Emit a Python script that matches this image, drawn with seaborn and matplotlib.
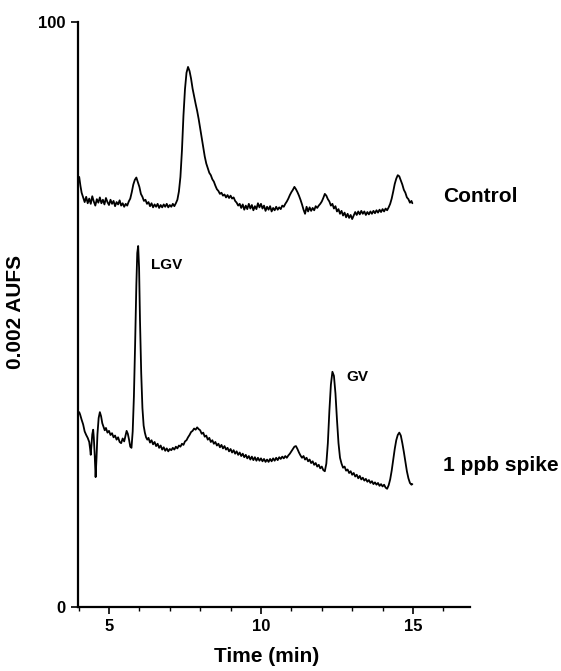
import numpy as np
import pandas as pd
import seaborn as sns
import matplotlib.pyplot as plt
from matplotlib.ticker import MultipleLocator

# ---- data (time in min, detector response in % of full scale) ----
control_time = [4.02, 4.06, 4.10, 4.15, 4.20, 4.25, 4.30, 4.35, 4.40, 4.45, 4.50, 4.55, 4.60, 4.65, 4.70,
                4.75, 4.80, 4.85, 4.90, 4.95, 5.00, 5.05, 5.10, 5.15, 5.20, 5.25, 5.30, 5.35, 5.40, 5.45,
                5.50, 5.55, 5.60, 5.65, 5.70, 5.75, 5.80, 5.85, 5.90, 5.95, 6.00, 6.05, 6.10, 6.15, 6.20,
                6.25, 6.30, 6.35, 6.40, 6.45, 6.50, 6.55, 6.60, 6.65, 6.70, 6.75, 6.80, 6.85, 6.90, 6.95,
                7.00, 7.05, 7.10, 7.15, 7.20, 7.25, 7.30, 7.35, 7.40, 7.45, 7.50, 7.55, 7.60, 7.65, 7.70,
                7.75, 7.80, 7.85, 7.90, 7.95, 8.00, 8.05, 8.10, 8.15, 8.20, 8.25, 8.30, 8.35, 8.40, 8.45,
                8.50, 8.55, 8.60, 8.65, 8.70, 8.75, 8.80, 8.85, 8.90, 8.95, 9.00, 9.05, 9.10, 9.15, 9.20,
                9.25, 9.30, 9.35, 9.40, 9.45, 9.50, 9.55, 9.60, 9.65, 9.70, 9.75, 9.80, 9.85, 9.90, 9.95,
                10.00, 10.05, 10.10, 10.15, 10.20, 10.25, 10.30, 10.35, 10.40, 10.45, 10.50, 10.55, 10.60,
                10.65, 10.70, 10.75, 10.80, 10.85, 10.90, 10.95, 11.00, 11.05, 11.10, 11.15, 11.20, 11.25,
                11.30, 11.35, 11.40, 11.45, 11.50, 11.55, 11.60, 11.65, 11.70, 11.75, 11.80, 11.85, 11.90,
                11.95, 12.00, 12.05, 12.10, 12.15, 12.20, 12.25, 12.30, 12.35, 12.40, 12.45, 12.50, 12.55,
                12.60, 12.65, 12.70, 12.75, 12.80, 12.85, 12.90, 12.95, 13.00, 13.05, 13.10, 13.15, 13.20,
                13.25, 13.30, 13.35, 13.40, 13.45, 13.50, 13.55, 13.60, 13.65, 13.70, 13.75, 13.80, 13.85,
                13.90, 13.95, 14.00, 14.05, 14.10, 14.15, 14.20, 14.25, 14.30, 14.35, 14.40, 14.45, 14.50,
                14.55, 14.60, 14.65, 14.70, 14.75, 14.80, 14.85, 14.90, 14.95, 14.98]
control_signal = [73.5, 72.0, 70.8, 70.0, 69.2, 70.1, 69.0, 69.8, 68.9, 70.2, 69.3, 68.6, 69.7, 69.1, 70.0,
                  69.0, 69.6, 68.8, 69.9, 69.2, 68.7, 69.6, 68.9, 69.4, 68.5, 69.2, 68.8, 69.5, 68.6, 69.0,
                  68.4, 68.9, 68.6, 69.3, 69.8, 70.9, 72.2, 73.0, 73.4, 72.6, 71.8, 70.6, 70.1, 69.4, 69.6,
                  68.9, 69.2, 68.5, 69.0, 68.3, 68.8, 68.4, 68.9, 68.2, 68.7, 68.3, 68.8, 68.4, 68.9, 68.3,
                  68.7, 68.4, 68.9, 68.5, 69.0, 69.6, 71.0, 73.5, 78.0, 84.0, 88.5, 91.3, 92.3, 91.6, 90.3,
                  88.6, 87.3, 86.0, 84.8, 83.4, 81.8, 80.2, 78.6, 77.0, 75.8, 75.0, 74.2, 73.8, 73.1, 72.7,
                  72.0, 71.4, 71.1, 70.6, 70.8, 70.3, 70.5, 70.0, 70.4, 69.9, 70.3, 69.8, 70.0, 69.4, 69.1,
                  68.6, 68.9, 68.2, 68.8, 67.9, 68.6, 68.0, 68.9, 68.1, 68.7, 67.8, 68.5, 68.0, 69.0, 68.3,
                  68.9, 68.1, 68.6, 67.7, 68.4, 67.9, 68.5, 67.6, 68.2, 67.8, 68.4, 67.9, 68.3,
                  68.0, 68.6, 68.4, 68.9, 69.3, 69.8, 70.4, 70.9, 71.3, 71.8, 71.4, 70.9, 70.3,
                  69.6, 68.8, 67.9, 67.2, 68.4, 67.6, 68.3, 67.7, 68.2, 67.8, 68.5, 68.2, 68.6,
                  68.9, 69.3, 69.9, 70.6, 70.3, 69.7, 69.3, 68.6, 68.9, 68.1, 68.5, 67.6, 68.0,
                  67.2, 67.7, 66.9, 67.4, 66.6, 67.2, 66.5, 67.0, 66.3, 66.9, 67.5, 67.0, 67.6,
                  67.1, 67.7, 67.2, 67.6, 67.0, 67.5, 67.1, 67.6, 67.2, 67.7, 67.3, 67.8, 67.4,
                  67.9, 67.5, 68.0, 67.6, 68.1, 67.8, 68.3, 68.9, 69.8, 71.0, 72.3, 73.2, 73.8,
                  73.6, 72.9, 72.2, 71.3, 70.8, 70.0, 69.7, 69.1, 69.4, 69.0]

spike_time = [4.02, 4.05, 4.10, 4.15, 4.20, 4.25, 4.30, 4.35, 4.38, 4.40, 4.42, 4.45, 4.48, 4.50, 4.53,
              4.56, 4.59, 4.62, 4.66, 4.70, 4.74, 4.78, 4.82, 4.86, 4.90, 4.95, 5.00, 5.05, 5.10, 5.15,
              5.20, 5.25, 5.30, 5.35, 5.40, 5.45, 5.50, 5.55, 5.58, 5.62, 5.66, 5.70, 5.74, 5.78, 5.82,
              5.86, 5.90, 5.93, 5.96, 5.99, 6.02, 6.06, 6.10, 6.14, 6.18, 6.22, 6.26, 6.30, 6.35, 6.40,
              6.45, 6.50, 6.55, 6.60, 6.65, 6.70, 6.75, 6.80, 6.85, 6.90, 6.95, 7.00, 7.05, 7.10, 7.15,
              7.20, 7.25, 7.30, 7.35, 7.40, 7.45, 7.50, 7.55, 7.60, 7.65, 7.70, 7.75, 7.80, 7.85, 7.90,
              7.95, 8.00, 8.05, 8.10, 8.15, 8.20, 8.25, 8.30, 8.35, 8.40, 8.45, 8.50, 8.55, 8.60, 8.65,
              8.70, 8.75, 8.80, 8.85, 8.90, 8.95, 9.00, 9.05, 9.10, 9.15, 9.20, 9.25, 9.30, 9.35, 9.40,
              9.45, 9.50, 9.55, 9.60, 9.65, 9.70, 9.75, 9.80, 9.85, 9.90, 9.95, 10.00, 10.05, 10.10,
              10.15, 10.20, 10.25, 10.30, 10.35, 10.40, 10.45, 10.50, 10.55, 10.60, 10.65, 10.70, 10.75,
              10.80, 10.85, 10.90, 10.95, 11.00, 11.05, 11.10, 11.15, 11.20, 11.25, 11.30, 11.35, 11.40,
              11.45, 11.50, 11.55, 11.60, 11.65, 11.70, 11.75, 11.80, 11.85, 11.90, 11.95, 12.00, 12.05,
              12.10, 12.15, 12.20, 12.25, 12.30, 12.35, 12.40, 12.45, 12.50, 12.55, 12.60, 12.65, 12.70,
              12.75, 12.80, 12.85, 12.90, 12.95, 13.00, 13.05, 13.10, 13.15, 13.20, 13.25, 13.30, 13.35,
              13.40, 13.45, 13.50, 13.55, 13.60, 13.65, 13.70, 13.75, 13.80, 13.85, 13.90, 13.95, 14.00,
              14.05, 14.10, 14.15, 14.20, 14.25, 14.30, 14.35, 14.40, 14.45, 14.50, 14.55, 14.60, 14.65,
              14.70, 14.75, 14.80, 14.85, 14.90, 14.95, 14.98]
spike_signal = [33.3, 32.9, 32.0, 31.2, 30.0, 29.4, 28.9, 28.2, 27.0, 26.0, 27.5, 29.5, 30.3, 29.0, 26.0,
                22.2, 25.5, 29.5, 32.3, 33.3, 32.6, 31.4, 30.8, 30.2, 30.6, 29.8, 30.1, 29.4, 29.7, 29.0,
                29.3, 28.6, 29.0, 28.2, 28.0, 28.8, 28.3, 29.4, 30.1, 29.6, 28.6, 27.4, 27.2, 30.0, 36.0,
                45.0, 55.0, 60.5, 61.7, 58.0, 49.0, 40.0, 34.0, 31.0, 29.8, 29.0, 28.6, 28.9, 28.1, 28.5,
                27.8, 28.2, 27.5, 27.9, 27.2, 27.6, 26.9, 27.3, 26.7, 27.1, 26.6, 27.0, 26.8, 27.2, 26.9,
                27.4, 27.1, 27.6, 27.4, 27.9, 27.7, 28.3, 28.5, 29.0, 29.4, 29.9, 30.1, 30.5, 30.3, 30.7,
                30.4, 30.2, 29.6, 29.8, 29.1, 29.3, 28.6, 28.9, 28.2, 28.5, 27.9, 28.2, 27.6, 27.9, 27.3,
                27.7, 27.1, 27.5, 26.9, 27.2, 26.6, 27.0, 26.4, 26.8, 26.2, 26.6, 26.0, 26.4, 25.8, 26.2,
                25.6, 26.0, 25.4, 25.8, 25.2, 25.7, 25.1, 25.6, 25.0, 25.5, 25.0, 25.4, 24.9, 25.3,
                24.8, 25.2, 24.8, 25.3, 24.9, 25.4, 25.0, 25.5, 25.1, 25.6, 25.3, 25.7, 25.4,
                25.8, 25.5, 25.9, 26.2, 26.6, 27.0, 27.4, 27.5, 27.0, 26.4, 25.9, 25.5, 25.8,
                25.2, 25.5, 24.9, 25.2, 24.6, 24.9, 24.3, 24.6, 24.0, 24.3, 23.7, 24.0, 23.4,
                23.2, 24.5, 28.0, 33.5, 38.0, 40.2, 39.5, 36.5, 32.0, 28.0, 25.5, 24.5, 23.8,
                24.0, 23.3, 23.5, 22.9, 23.2, 22.6, 22.9, 22.3, 22.6, 22.0, 22.4, 21.8, 22.1,
                21.6, 21.9, 21.4, 21.7, 21.2, 21.5, 21.0, 21.3, 20.9, 21.2, 20.7, 21.0, 20.6,
                20.9, 20.4, 20.2, 20.8, 21.8, 23.3, 25.2, 27.0, 28.5, 29.4, 29.8, 29.3, 28.0,
                26.5, 24.8, 23.2, 22.0, 21.2, 20.9, 21.0]

trace_names = ["Control", "1 ppb spike"]
peak_names = ["LGV", "GV"]

df = pd.concat([
    pd.DataFrame({"time": control_time, "signal": control_signal, "trace": trace_names[0]}),
    pd.DataFrame({"time": spike_time, "signal": spike_signal, "trace": trace_names[1]}),
])

sns.set_style("ticks")
plt.rcParams['font.family'] = ['Liberation Sans', 'DejaVu Sans']
plt.rcParams['font.weight'] = 'bold'
plt.rcParams.update({"text.color": "black", "axes.labelcolor": "black",
                     "xtick.color": "black", "ytick.color": "black",
                     "axes.edgecolor": "black"})

fig = plt.figure(figsize=(5.61, 6.71), dpi=100)
ax = fig.add_axes([0.139, 0.0954, 0.699, 0.872])

for name in trace_names:
    sns.lineplot(data=df[df["trace"] == name], x="time", y="signal", estimator=None,
                 sort=False, color="black", linewidth=1.3, ax=ax, legend=False)

ax.set_xlim(3.98, 16.88)
ax.set_ylim(0, 100)
ax.set_xticks([5, 10, 15])
ax.xaxis.set_minor_locator(MultipleLocator(1))
ax.set_yticks([0, 100])
ax.tick_params(axis="both", which="major", labelsize=12, width=1.2, length=5, pad=4)
ax.tick_params(axis="x", which="minor", width=1.0, length=3)
for lab in ax.get_xticklabels() + ax.get_yticklabels():
    lab.set_fontweight("bold")

sns.despine(ax=ax)
for side in ["left", "bottom"]:
    ax.spines[side].set_linewidth(1.6)

ax.set_xlabel("Time (min)", fontsize=15, fontweight="bold")
ax.set_ylabel("0.002 AUFS", fontsize=15, fontweight="bold")
ax.xaxis.set_label_coords(0.48, -0.068)
ax.yaxis.set_label_coords(-0.135, 0.504)

# trace and peak labels
ax.text(15.99, 70.1, trace_names[0], fontsize=15, fontweight="bold", ha="left", va="center")
ax.text(15.99, 24.1, trace_names[1], fontsize=15, fontweight="bold", ha="left", va="center", clip_on=False)
ax.text(6.38, 58.5, peak_names[0], fontsize=11, fontweight="bold", ha="left", va="center")
ax.text(12.8, 39.3, peak_names[1], fontsize=11, fontweight="bold", ha="left", va="center")

fig.savefig("out.png", dpi=100)
